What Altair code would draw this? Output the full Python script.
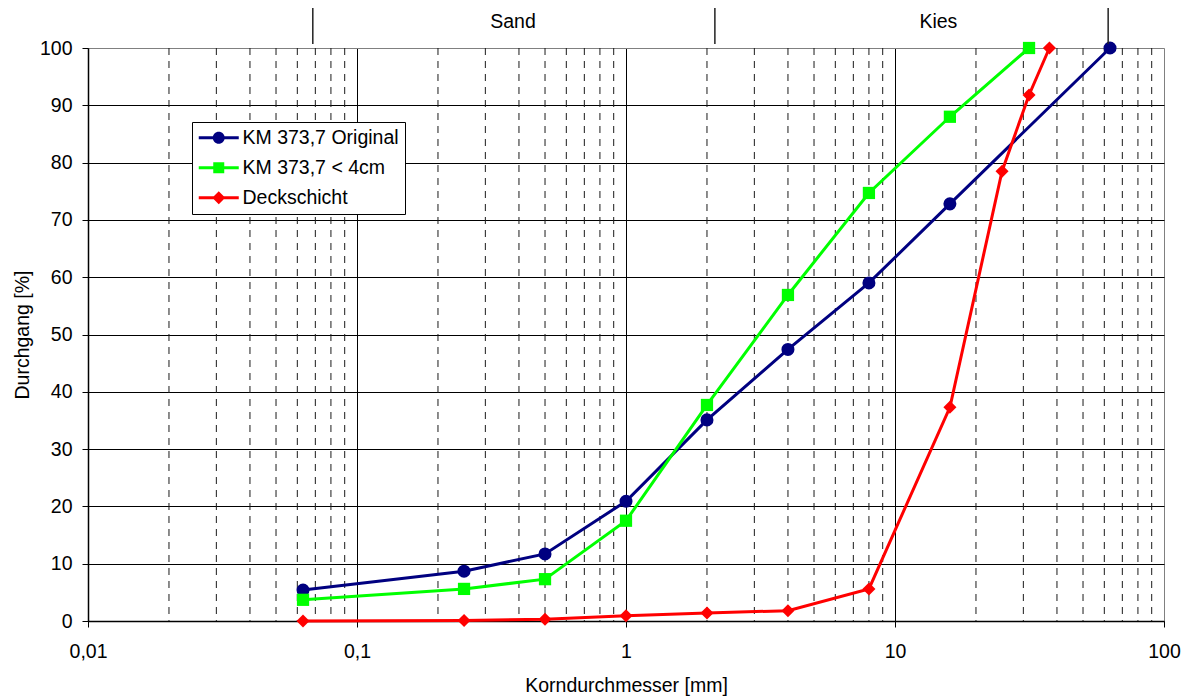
import altair as alt
import pandas as pd

# ---------------- data ----------------
series_names = ["KM 373,7 Original", "KM 373,7 < 4cm", "Deckschicht"]
series_colors = ["#000080", "#00FF00", "#FF0000"]
series_shapes = ["circle", "square", "diamond"]

sizes_original = [0.063, 0.25, 0.5, 1, 2, 4, 8, 16, 63]
pass_original = [5.4, 8.7, 11.7, 20.9, 35.1, 47.4, 59.0, 72.8, 100]

sizes_lt4 = [0.063, 0.25, 0.5, 1, 2, 4, 8, 16, 31.5]
pass_lt4 = [3.7, 5.6, 7.3, 17.5, 37.7, 56.9, 74.7, 88.0, 100]

sizes_deck = [0.063, 0.25, 0.5, 1, 2, 4, 8, 16, 25, 31.5, 37.5]
pass_deck = [0.0, 0.1, 0.3, 0.9, 1.4, 1.8, 5.6, 37.3, 78.5, 91.8, 100]

x_ticks = [0.01, 0.1, 1, 10, 100]
y_ticks = [0, 10, 20, 30, 40, 50, 60, 70, 80, 90, 100]
minor_ticks = [0.02, 0.03, 0.04, 0.05, 0.06, 0.07, 0.08, 0.09,
               0.2, 0.3, 0.4, 0.5, 0.6, 0.7, 0.8, 0.9,
               2, 3, 4, 5, 6, 7, 8, 9,
               20, 30, 40, 50, 60, 70, 80, 90]

zone_bounds = [0.0685, 2.14, 62]
zone_labels = ["Sand", "Kies"]
zone_label_x = [0.38, 14.5]

FONT = "Liberation Sans"
FS = 19.5

# --------------- tables ---------------
rows = []
for name, xs, ys in [(series_names[0], sizes_original, pass_original),
                     (series_names[1], sizes_lt4, pass_lt4),
                     (series_names[2], sizes_deck, pass_deck)]:
    for xv, yv in zip(xs, ys):
        rows.append({"series": name, "d": xv, "p": yv})
df = pd.DataFrame(rows)

minor_df = pd.DataFrame({"d": minor_ticks})
bounds_df = pd.DataFrame({"d": zone_bounds})
zone_df = pd.DataFrame({"d": zone_label_x, "label": zone_labels})

xscale = alt.Scale(type="log", domain=[0.01, 100], nice=False)
yscale = alt.Scale(domain=[0, 100], nice=False)

x_axis = alt.Axis(
    values=x_ticks,
    labelExpr="replace(toString(datum.value), '.', ',')",
    title="Korndurchmesser [mm]",
    grid=True,
    gridColor={"condition": {"test": "datum.value == 100", "value": "#808080"}, "value": "#000000"},
    gridWidth=1,
    domainColor="#000000",
    domainWidth=1.5,
    tickColor="#000000",
    tickSize=6,
    labelPadding=15,
    labelFont=FONT,
    labelFontSize=FS,
    labelColor="#000000",
    labelFlush=False,
    titleFont=FONT,
    titleFontSize=FS,
    titleFontWeight="normal",
    titleColor="#000000",
    titleY=64,
    titleBaseline="middle",
)
y_axis = alt.Axis(
    values=y_ticks,
    title="Durchgang [%]",
    grid=True,
    gridColor={"condition": {"test": "datum.value == 100", "value": "#808080"}, "value": "#000000"},
    gridWidth=1,
    domainColor="#000000",
    domainWidth=1.5,
    tickColor="#000000",
    tickSize=6,
    labelPadding=10,
    labelFont=FONT,
    labelFontSize=FS,
    labelColor="#000000",
    titleFont=FONT,
    titleFontSize=FS,
    titleFontWeight="normal",
    titleColor="#000000",
    titleX=-66,
    titleY=286.5,
    titleBaseline="middle",
)

# base axes layer (invisible points just to carry axes)
base = alt.Chart(df).mark_point(opacity=0).encode(
    x=alt.X("d:Q", scale=xscale, axis=x_axis),
    y=alt.Y("p:Q", scale=yscale, axis=y_axis),
)

minor = alt.Chart(minor_df).mark_rule(color="#1a1a1a", strokeWidth=1, strokeDash=[7, 6]).encode(
    x=alt.X("d:Q", scale=xscale)
)

layers = [base, minor]
for name, col, shp in zip(series_names, series_colors, series_shapes):
    sub = alt.Chart(df).transform_filter(alt.datum.series == name)
    layers.append(sub.mark_line(color=col, strokeWidth=3).encode(
        x=alt.X("d:Q", scale=xscale), y=alt.Y("p:Q", scale=yscale)))
for name, col, shp in zip(series_names, series_colors, series_shapes):
    sub = alt.Chart(df).transform_filter(alt.datum.series == name)
    sz = {"circle": 170, "square": 150, "diamond": 170}[shp]
    layers.append(sub.mark_point(color=col, shape=shp, filled=True, opacity=1, size=sz).encode(
        x=alt.X("d:Q", scale=xscale), y=alt.Y("p:Q", scale=yscale)))

# legend-only layer: symbols = line + marker
line_part = "M-4,-0.3 L-1,-0.3 L-1,0.3 L-4,0.3 Z M1,-0.3 L4,-0.3 L4,0.3 L1,0.3 Z "
marker_paths = {
    "circle": "M1.2,0 A1.2,1.2 0 1,1 -1.2,0 A1.2,1.2 0 1,1 1.2,0 Z",
    "square": "M-1.1,-1.1 L1.1,-1.1 L1.1,1.1 L-1.1,1.1 Z",
    "diamond": "M0,-1.3 L1.3,0 L0,1.3 L-1.3,0 Z",
}
legend_paths = [line_part + marker_paths[s] for s in series_shapes]

leg = alt.Legend(
    title=None,
    orient="none",
    legendX=104,
    legendY=74,
    strokeColor="#000000",
    fillColor="#ffffff",
    padding=6,
    rowPadding=9,
    symbolOffset=11,
    labelOffset=14,
    symbolStrokeWidth=0,
    labelFont=FONT,
    labelFontSize=FS,
    labelColor="#000000",
    labelLimit=400,
)
legend_layer = alt.Chart(df).transform_filter("false").mark_point(filled=True, opacity=1, size=100).encode(
    x=alt.X("d:Q", scale=xscale),
    y=alt.Y("p:Q", scale=yscale),
    color=alt.Color("series:N", scale=alt.Scale(domain=series_names, range=series_colors), legend=leg),
    shape=alt.Shape("series:N", scale=alt.Scale(domain=series_names, range=legend_paths), legend=leg),
)
layers.append(legend_layer)

# top zone band
bounds = alt.Chart(bounds_df).mark_rule(color="#222222", strokeWidth=1.5).encode(
    x=alt.X("d:Q", scale=xscale),
    y=alt.value(-40),
    y2=alt.value(-4),
)
zones = alt.Chart(zone_df).mark_text(font=FONT, fontSize=FS, color="#000000", baseline="middle", align="center").encode(
    x=alt.X("d:Q", scale=xscale),
    y=alt.value(-26),
    text="label:N",
)
layers += [bounds, zones]

chart = alt.layer(*layers).properties(
    width=1076,
    height=573,
    autosize=alt.AutoSizeParams(type="none"),
    padding={"left": 80, "top": 40, "right": 18, "bottom": 80},
).configure_view(stroke="#808080", strokeWidth=1.5).configure(background="#ffffff")

chart.save("out.html", embed_options={"renderer": "svg", "actions": False})
